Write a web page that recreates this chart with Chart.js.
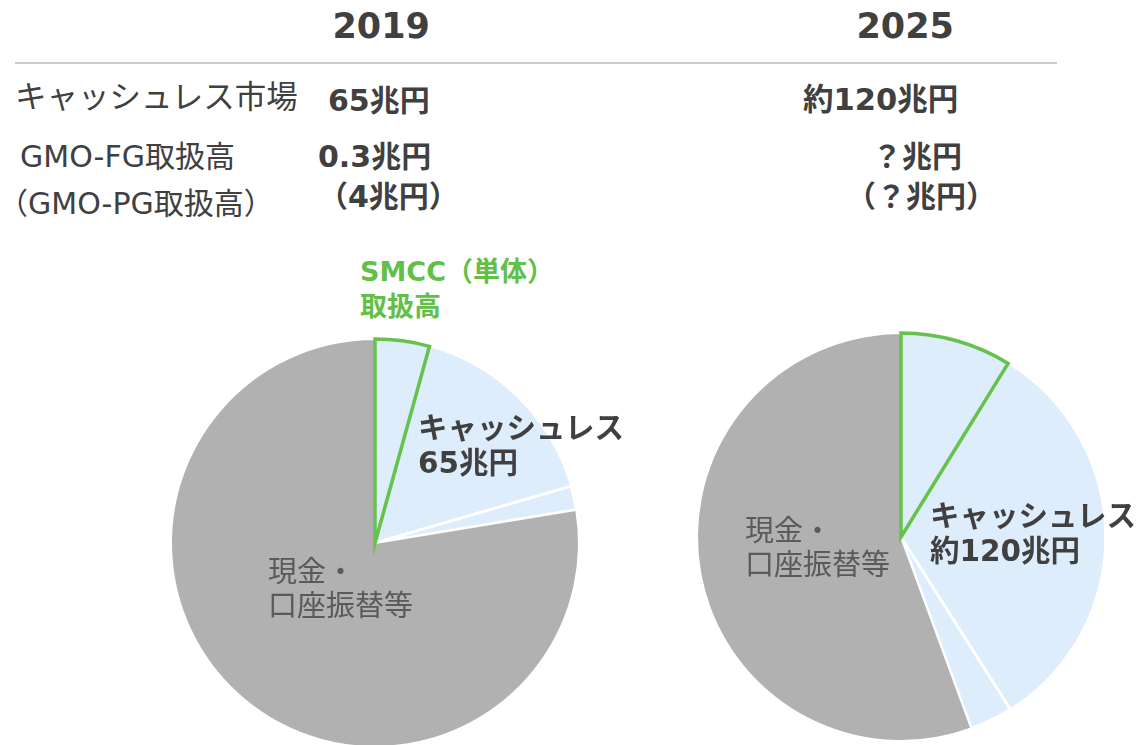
<!DOCTYPE html>
<html lang="ja">
<head>
<meta charset="utf-8">
<script src="https://cdn.jsdelivr.net/npm/chart.js@4/dist/chart.umd.min.js"></script>
<style>
  html, body { margin:0; padding:0; background:#fff; }
  body { width:1137px; height:745px; overflow:hidden; position:relative;
         font-family:"DejaVu Sans","Noto Sans CJK JP",sans-serif; color:#404040; }
  .t { position:absolute; white-space:nowrap; line-height:1; }
  .b { font-weight:bold; }
  canvas { position:absolute; }
  #rule { position:absolute; left:15px; top:62px; width:1042px; height:1.5px; background:#cdcdcd; }
</style>
</head>
<body>
<canvas id="pie2019" width="440" height="440" style="left:155px;top:323px;"></canvas>
<canvas id="pie2025" width="440" height="440" style="left:681px;top:317px;"></canvas>
<div id="rule"></div>
<div id="texts"></div>
<script>
// ---- data ----
const years = ['2019', '2025'];
const categories = ['SMCC（単体）取扱高', 'キャッシュレス', 'その他キャッシュレス', '現金・口座振替等'];
const share2019 = [4.3, 16.2, 1.9, 77.6];
const share2025 = [8.8, 32.2, 3.4, 55.6];
const marketLabels = ['65兆円', '約120兆円'];
const gmoFgLabels = ['0.3兆円', '？兆円'];
const gmoPgLabels = ['（4兆円）', '（？兆円）'];

const colors = ['#ddedfc', '#ddedfc', '#ddedfc', '#b1b1b1'];
const borderColors = ['#66c24a', '#ffffff', '#ffffff', '#ffffff'];
const borderWidths = [3.5, 1.5, 3, 2];

function makePie(id, values) {
  const total = values.reduce((a, b) => a + b, 0);
  // draw the highlighted slice last so its outline sits on top
  const order = [1, 2, 3, 0];
  new Chart(document.getElementById(id), {
    type: 'pie',
    data: {
      labels: order.map(i => categories[i]),
      datasets: [{
        data: order.map(i => values[i]),
        backgroundColor: order.map(i => colors[i]),
        borderColor: order.map(i => borderColors[i]),
        borderWidth: order.map(i => borderWidths[i]),
        borderJoinStyle: 'miter'
      }]
    },
    options: {
      responsive: false,
      animation: false,
      radius: 204,
      rotation: values[0] / total * 360,
      plugins: { legend: { display: false }, tooltip: { enabled: false } },
      layout: { padding: 0 }
    }
  });
}
makePie('pie2019', share2019);
makePie('pie2025', share2025);

// ---- texts ----
const T = [
  [years[0], 381, 28, 35, true, '#404040', 'c'],
  [years[1], 905, 28, 35, true, '#404040', 'c'],
  ['キャッシュレス市場', 15, 99, 31.5, false, '#404040'],
  [marketLabels[0], 328, 102, 30, true, '#404040'],
  [marketLabels[1], 803, 102, 30.5, true, '#404040'],
  ['GMO-FG取扱高', 20, 158, 30, false, '#404040'],
  [gmoFgLabels[0], 318, 158, 30, true, '#404040'],
  [gmoFgLabels[1], 872, 158, 30, true, '#404040'],
  ['（GMO-PG取扱高）', -2, 205, 30, false, '#404040'],
  [gmoPgLabels[0], 318, 198, 30, true, '#404040'],
  [gmoPgLabels[1], 846, 198, 30, true, '#404040'],
  ['SMCC（単体）', 360, 273, 27, true, '#62bf48'],
  ['取扱高', 360, 308, 27, true, '#62bf48'],
  ['キャッシュレス', 418, 430, 29.5, true, '#404040'],
  [marketLabels[0], 418, 465, 29.5, true, '#404040'],
  ['現金・', 268, 574, 29, false, '#5a5a5a'],
  ['口座振替等', 268, 608, 29, false, '#5a5a5a'],
  ['キャッシュレス', 930, 518, 29.5, true, '#404040'],
  [marketLabels[1], 930, 553, 29.5, true, '#404040'],
  ['現金・', 745, 533, 29, false, '#5a5a5a'],
  ['口座振替等', 745, 567, 29, false, '#5a5a5a']
];
const host = document.getElementById('texts');
T.forEach(([s, x, cy, fs, bold, col, al]) => {
  const d = document.createElement('div');
  d.className = 't' + (bold ? ' b' : '');
  d.textContent = s;
  d.style.fontSize = fs + 'px';
  d.style.color = col;
  d.style.top = (cy - fs * 0.55) + 'px';
  host.appendChild(d);
  if (al === 'c') d.style.left = (x - d.offsetWidth / 2) + 'px';
  else d.style.left = x + 'px';
});
</script>
</body>
</html>
